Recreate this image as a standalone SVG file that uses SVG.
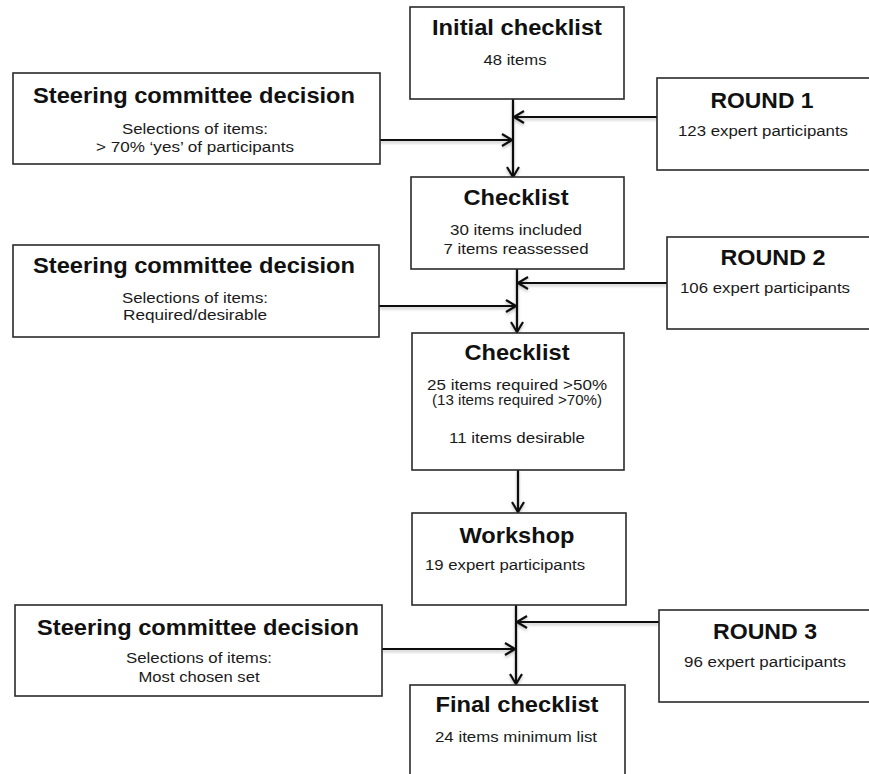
<svg xmlns="http://www.w3.org/2000/svg" width="869" height="774" viewBox="0 0 869 774">
<style>
.box{fill:#fff;stroke:#2a2a2a;stroke-width:1.6}
.t{font-family:"Liberation Sans",Arial,sans-serif;font-weight:bold;font-size:22px;fill:#111;text-anchor:middle}
.r{font-family:"Liberation Sans",Arial,sans-serif;font-weight:bold;font-size:22px;fill:#111;text-anchor:middle}
.s{font-family:"Liberation Sans",Arial,sans-serif;font-size:15.5px;fill:#1a1a1a;text-anchor:middle}
.ss{font-family:"Liberation Sans",Arial,sans-serif;font-size:14px;fill:#1a1a1a;text-anchor:middle}
.l{text-anchor:start}
.c{stroke:#111;stroke-width:2.2;fill:none;marker-end:url(#ah)}
</style>
<defs>
<marker id="ah" viewBox="0 0 12 14" refX="11" refY="7" markerWidth="12" markerHeight="14" markerUnits="userSpaceOnUse" orient="auto">
<path d="M1,1 L11,7 L1,13" fill="none" stroke="#111" stroke-width="2.2"/>
</marker>
<filter id="sh" filterUnits="userSpaceOnUse" x="0" y="0" width="869" height="774">
<feDropShadow dx="0" dy="2" stdDeviation="1.5" flood-color="#000" flood-opacity="0.25"/>
</filter>
</defs>
<rect width="869" height="774" fill="#fff"/>
<g id="connectors" filter="url(#sh)">
<line class="c" x1="513" y1="99" x2="513" y2="177"/>
<line class="c" x1="657" y1="117" x2="514" y2="117"/>
<line class="c" x1="380" y1="140" x2="512" y2="140"/>
<line class="c" x1="517" y1="269" x2="517" y2="332"/>
<line class="c" x1="667" y1="283" x2="518" y2="283"/>
<line class="c" x1="379" y1="306" x2="516" y2="306"/>
<line class="c" x1="518" y1="470" x2="518" y2="512"/>
<line class="c" x1="516" y1="605" x2="516" y2="684"/>
<line class="c" x1="659" y1="622" x2="517" y2="622"/>
<line class="c" x1="382" y1="649" x2="515" y2="649"/>
</g>
<g id="initial">
<rect class="box" x="410" y="7" width="214" height="92"/>
<text class="t" x="517" y="35" textLength="170" lengthAdjust="spacingAndGlyphs">Initial checklist</text>
<text class="s" x="515" y="65" textLength="63" lengthAdjust="spacingAndGlyphs">48 items</text>
</g>
<g id="steering1">
<rect class="box" x="13" y="73" width="367" height="91"/>
<text class="t" x="194" y="103" textLength="322" lengthAdjust="spacingAndGlyphs">Steering committee decision</text>
<text class="s" x="195" y="134" textLength="146" lengthAdjust="spacingAndGlyphs">Selections of items:</text>
<text class="s" x="195" y="152" textLength="198" lengthAdjust="spacingAndGlyphs">&gt; 70% ‘yes’ of participants</text>
</g>
<g id="round1">
<rect class="box" x="657" y="78" width="230" height="92"/>
<text class="r" x="762" y="108" textLength="103" lengthAdjust="spacingAndGlyphs">ROUND 1</text>
<text class="s" x="763" y="136" textLength="170" lengthAdjust="spacingAndGlyphs">123 expert participants</text>
</g>
<g id="checklist2">
<rect class="box" x="411" y="177" width="213" height="92"/>
<text class="t" x="516" y="205" textLength="105" lengthAdjust="spacingAndGlyphs">Checklist</text>
<text class="s" x="516" y="235" textLength="132" lengthAdjust="spacingAndGlyphs">30 items included</text>
<text class="s" x="516" y="254" textLength="145" lengthAdjust="spacingAndGlyphs">7 items reassessed</text>
</g>
<g id="steering2">
<rect class="box" x="13" y="245" width="366" height="92"/>
<text class="t" x="194" y="273" textLength="322" lengthAdjust="spacingAndGlyphs">Steering committee decision</text>
<text class="s" x="195" y="303" textLength="146" lengthAdjust="spacingAndGlyphs">Selections of items:</text>
<text class="s" x="195" y="320" textLength="144" lengthAdjust="spacingAndGlyphs">Required/desirable</text>
</g>
<g id="round2">
<rect class="box" x="667" y="237" width="220" height="92"/>
<text class="r" x="773" y="265" textLength="105" lengthAdjust="spacingAndGlyphs">ROUND 2</text>
<text class="s" x="765" y="293" textLength="170" lengthAdjust="spacingAndGlyphs">106 expert participants</text>
</g>
<g id="checklist3">
<rect class="box" x="412" y="333" width="212" height="137"/>
<text class="t" x="517" y="360" textLength="105" lengthAdjust="spacingAndGlyphs">Checklist</text>
<text class="s" x="517" y="390" textLength="180" lengthAdjust="spacingAndGlyphs">25 items required &gt;50%</text>
<text class="ss" x="517" y="405" textLength="170" lengthAdjust="spacingAndGlyphs">(13 items required &gt;70%)</text>
<text class="s" x="517" y="443" textLength="136" lengthAdjust="spacingAndGlyphs">11 items desirable</text>
</g>
<g id="workshop">
<rect class="box" x="412" y="513" width="214" height="92"/>
<text class="t" x="517" y="543" textLength="115" lengthAdjust="spacingAndGlyphs">Workshop</text>
<text class="s l" x="425" y="570" textLength="160" lengthAdjust="spacingAndGlyphs">19 expert participants</text>
</g>
<g id="steering3">
<rect class="box" x="15" y="605" width="367" height="91"/>
<text class="t" x="198" y="635" textLength="322" lengthAdjust="spacingAndGlyphs">Steering committee decision</text>
<text class="s" x="199" y="663" textLength="146" lengthAdjust="spacingAndGlyphs">Selections of items:</text>
<text class="s" x="199" y="682" textLength="121" lengthAdjust="spacingAndGlyphs">Most chosen set</text>
</g>
<g id="round3">
<rect class="box" x="659" y="610" width="230" height="92"/>
<text class="r" x="765" y="639" textLength="104" lengthAdjust="spacingAndGlyphs">ROUND 3</text>
<text class="s" x="765" y="667" textLength="162" lengthAdjust="spacingAndGlyphs">96 expert participants</text>
</g>
<g id="final">
<rect class="box" x="410" y="685" width="215" height="110"/>
<text class="t" x="517" y="712" textLength="163" lengthAdjust="spacingAndGlyphs">Final checklist</text>
<text class="s" x="516" y="742" textLength="162" lengthAdjust="spacingAndGlyphs">24 items minimum list</text>
</g>
</svg>
